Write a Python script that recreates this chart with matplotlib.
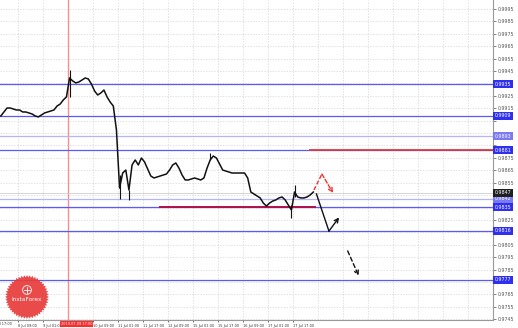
import matplotlib
matplotlib.use('Agg')
import matplotlib.pyplot as plt
import numpy as np
from matplotlib.transforms import blended_transform_factory

# ---------------- data ----------------
bars = list(range(0, 201, 2))
close = [0.99088, 0.99120, 0.99152, 0.99152, 0.99144, 0.99136, 0.99136, 0.99120, 0.99120, 0.99112,
         0.99104, 0.99088, 0.99080, 0.99096, 0.99112, 0.99120, 0.99128, 0.99136, 0.99168, 0.99184,
         0.99217, 0.99241, 0.99394, 0.99370, 0.99354, 0.99362, 0.99378, 0.99394, 0.99386, 0.99345,
         0.99289, 0.99257, 0.99273, 0.99297, 0.99241, 0.99200, 0.99168, 0.98975, 0.98507, 0.98628,
         0.98652, 0.98491, 0.98693, 0.98733, 0.98693, 0.98749, 0.98717, 0.98660, 0.98604, 0.98588,
         0.98596, 0.98604, 0.98612, 0.98620, 0.98652, 0.98693, 0.98709, 0.98668, 0.98612, 0.98572,
         0.98572, 0.98580, 0.98588, 0.98580, 0.98572, 0.98588, 0.98668, 0.98733, 0.98765, 0.98749,
         0.98701, 0.98652, 0.98644, 0.98636, 0.98628, 0.98628, 0.98628, 0.98628, 0.98628, 0.98588,
         0.98475, 0.98459, 0.98443, 0.98427, 0.98386, 0.98362, 0.98386, 0.98402, 0.98411, 0.98427,
         0.98435, 0.98411, 0.98370, 0.98330, 0.98475, 0.98435, 0.98427, 0.98427, 0.98435, 0.98451,
         0.98475]
wick_bars = [44, 76, 82, 134, 186, 188]
wick_low = [0.99241, 0.98419, 0.98411, 0.98733, 0.98265, 0.98435]
wick_high = [0.99458, 0.98612, 0.98491, 0.98789, 0.98370, 0.98531]

levels = [0.99345, 0.99088, 0.98926, 0.98813, 0.98419, 0.98354, 0.98161, 0.97766]
level_faint = [False, False, True, False, True, False, False, False]
current_price = 0.98467
resistance_price = 0.98813
resistance_start = 198
support_price = 0.98354
support_span = (102, 201)

ytick_top = 0.9995
ytick_step = 0.0010
n_yticks = 26

xtick_bars = [-5, 11, 27, 43, 59, 75, 91, 107, 123, 139, 155, 171, 187]
xtick_labels = ["7 Jul 17:00", "8 Jul 09:00", "9 Jul 01:00", "", "10 Jul 09:00", "11 Jul 01:00",
                "11 Jul 17:00", "12 Jul 09:00", "15 Jul 01:00", "15 Jul 17:00", "16 Jul 09:00",
                "17 Jul 01:00", "17 Jul 17:00"]
marker_bar = 43
marker_label = "2019.07.09 17:00"

red_path = [(200.4, 0.98491), (205.5, 0.98620), (212.6, 0.98467)]
black_solid = [(202.0, 0.98459), (210.0, 0.98160), (216.5, 0.98270)]
black_dashed = [(222.0, 0.98000), (229.0, 0.97800)]

# ---------------- figure ----------------
W, H = 518, 328
fig = plt.figure(figsize=(W / 100, H / 100), dpi=100)
fig.patch.set_facecolor('white')
ax = fig.add_axes([0, 8 / H, 493 / W, 320 / H])
ax.set_facecolor('white')

XMIN, XMAX = -0.52, 315.0
YMIN, YMAX = 0.974433, 1.000225

# grid
yt = [ytick_top - i * ytick_step for i in range(n_yticks)]
grid_x = xtick_bars + [203 + 16 * i for i in range(8)]
for gx in grid_x:
    ax.axvline(gx, color='#d4d4d4', lw=0.5, ls=(0, (2, 2)), zorder=0)
for gy in yt:
    ax.axhline(gy, color='#d4d4d4', lw=0.5, ls=(0, (2, 2)), zorder=0)

# marker vertical line
ax.axvline(marker_bar, color='#f29090', lw=1.0, zorder=1)

# level lines
for lv, faint in zip(levels, level_faint):
    ax.axhline(lv, color='#b4b4fa' if faint else '#5a5af5', lw=0.9, zorder=2)
ax.axhline(current_price, color='#cfcfcf', lw=0.6, zorder=1)

ax.plot([resistance_start, XMAX], [resistance_price] * 2, color='#e03030', lw=1.2, zorder=3)
ax.plot(list(support_span), [support_price] * 2, color='#b0104a', lw=1.4, zorder=3)

# price
ax.plot(bars, close, color='#111111', lw=1.1, zorder=4)
ax.vlines(wick_bars, wick_low, wick_high, color='#111111', lw=0.8, zorder=4)

# arrows
rx, ry = zip(*red_path)
ax.plot(rx[:2], ry[:2], color='#f03030', lw=1.0, ls=(0, (3, 1.5)), zorder=5)
ax.annotate('', xy=red_path[2], xytext=red_path[1],
            arrowprops=dict(arrowstyle='->', color='#f03030', lw=1.0, ls=(0, (3, 1.5)),
                            mutation_scale=7, shrinkA=0, shrinkB=0), zorder=5)
bx, by = zip(*black_solid)
ax.plot(bx[:2], by[:2], color='#111111', lw=1.0, zorder=5)
ax.annotate('', xy=black_solid[2], xytext=black_solid[1],
            arrowprops=dict(arrowstyle='->', color='#111111', lw=1.0,
                            mutation_scale=7, shrinkA=0, shrinkB=0), zorder=5)
ax.annotate('', xy=black_dashed[1], xytext=black_dashed[0],
            arrowprops=dict(arrowstyle='->', color='#111111', lw=1.0, ls=(0, (3, 2)),
                            mutation_scale=7, shrinkA=0, shrinkB=0), zorder=5)

# spines / ticks
for s in ['top', 'left']:
    ax.spines[s].set_visible(False)
ax.spines['right'].set_color('#9a9a9a')
ax.spines['bottom'].set_color('#9a9a9a')
ax.spines['right'].set_linewidth(0.8)
ax.spines['bottom'].set_linewidth(0.8)

ax.yaxis.tick_right()
ax.set_yticks(yt)
# tick labels hidden where a level box covers them
ylabels = []
for v in yt:
    covered = any(abs(v - lv) < 0.0006 for lv in levels + [current_price])
    ylabels.append('' if covered else f"{v:.4f}")
ax.set_yticklabels(ylabels)
ax.tick_params(axis='y', labelsize=3.4, colors='#555555', length=2, width=0.5, pad=1.5)

XFS = 2.5
vis = [i for i, b in enumerate(xtick_bars) if b >= XMIN]
ax.set_xticks([xtick_bars[i] for i in vis])
ax.set_xticklabels([xtick_labels[i] for i in vis], ha='left')
ax.tick_params(axis='x', labelsize=XFS, colors='#333333', length=1.5, width=0.5, pad=1.2)

ax.set_xlim(XMIN, XMAX)
ax.set_ylim(YMIN, YMAX)

transx = blended_transform_factory(ax.transData, ax.transAxes)
for i, b in enumerate(xtick_bars):
    if b < XMIN:
        ax.text(b, -0.0125, xtick_labels[i], transform=transx, fontsize=XFS, color='#333333',
                ha='left', va='center', clip_on=False)

# boxed level labels on right axis
trans = blended_transform_factory(ax.transAxes, ax.transData)
for lv, faint in zip(levels, level_faint):
    ax.text(1.004, lv, f"{lv:.4f}", transform=trans, fontsize=3.4, color='white',
            va='center', ha='left', clip_on=False, zorder=10,
            bbox=dict(boxstyle='square,pad=0.35', fc='#7a7af5' if faint else '#2f2ff0', ec='none'))
ax.text(1.004, current_price, f"{current_price:.4f}", transform=trans, fontsize=3.4,
        color='white', va='center', ha='left', clip_on=False, zorder=10,
        bbox=dict(boxstyle='square,pad=0.35', fc='#202020', ec='none'))

# marker label on time axis (placed just right of the previous date label)
ax.text(marker_bar - 4.6, -0.0125, marker_label, transform=transx, fontsize=XFS, color='white',
        ha='left', va='center', clip_on=False, zorder=10,
        bbox=dict(boxstyle='square,pad=0.3', fc='#ff2a2a', ec='none'))

# InstaForex badge
lax = fig.add_axes([4 / W, 8 / H, 46 / W, 46 / H])
lax.set_xlim(-1.05, 1.05)
lax.set_ylim(-1.05, 1.05)
lax.axis('off')
n = 48
ang = np.linspace(0, 2 * np.pi, 2 * n, endpoint=False)
rad = np.where(np.arange(2 * n) % 2 == 0, 1.0, 0.9)
lax.fill(rad * np.cos(ang), rad * np.sin(ang), color='#e83c3c', alpha=0.92, lw=0)
lax.add_patch(plt.Circle((0, 0.32), 0.2, fc='none', ec='white', lw=0.6))
lax.plot([0, 0], [0.18, 0.46], color='white', lw=0.6)
lax.plot([-0.12, 0.12], [0.34, 0.34], color='white', lw=0.6)
lax.text(0, -0.12, 'InstaForex', color='white', fontsize=4.2, ha='center', va='center')

fig.savefig('out.png', dpi=100, facecolor='white')
